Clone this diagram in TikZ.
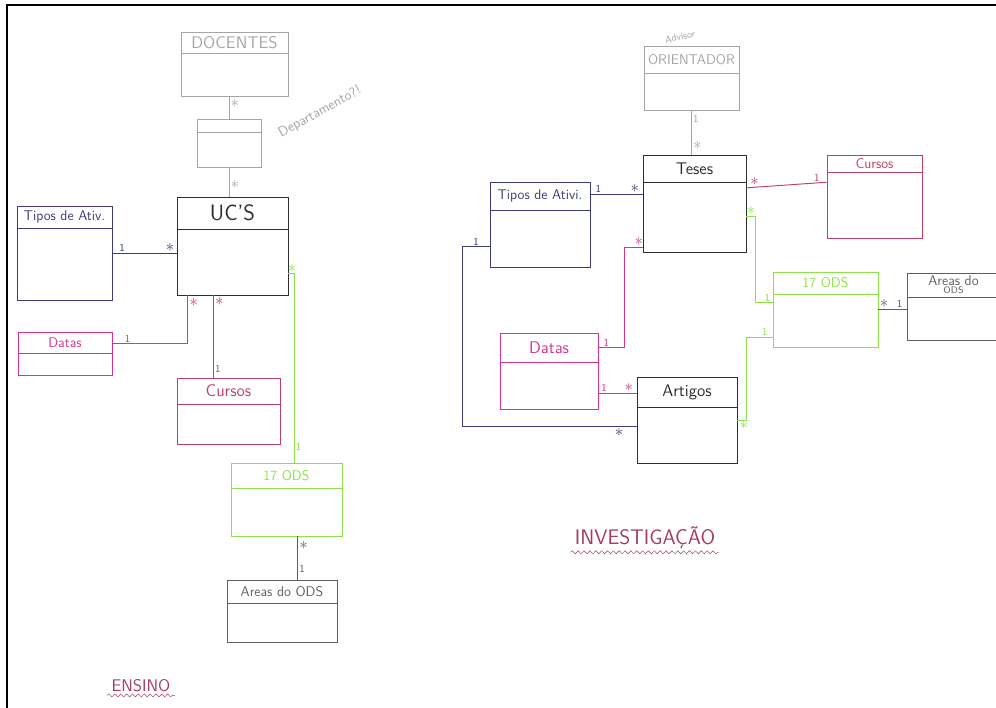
\documentclass[tikz,border=0pt]{standalone}
\usetikzlibrary{fit,calc,decorations.pathmorphing}

\definecolor{boxblack}{RGB}{45,45,45}
\definecolor{boxgray}{RGB}{165,165,165}
\definecolor{boxdark}{RGB}{95,95,95}
\definecolor{navy}{RGB}{60,60,120}
\definecolor{datapink}{RGB}{215,50,145}
\definecolor{rose}{RGB}{190,65,100}
\definecolor{odsgreen}{RGB}{140,225,70}
\definecolor{wine}{RGB}{165,60,100}

\newcommand{\manysym}{{\Large$\ast$}}
\newcommand{\umlclass}[8]{%
  \node[class node,draw=#2,fit={(#3,#4) (#5,#6)}] (#1) {};
  \draw[#2] (#3,#7) -- (#5,#7);
  \node[title node,text=#2] (#1-title) at ({(#3+#5)/2},{(#4+#7)/2}) {#8};
}

\begin{document}
\begin{tikzpicture}[x=0.03cm,y=-0.03cm,thick,
  class node/.style={rectangle,inner sep=0pt},
  title node/.style={font=\sffamily,align=center,inner sep=1pt},
  mult/.style={font=\sffamily\small,inner sep=1pt},
  heading/.style={font=\sffamily\Large,text=wine},
  wave/.style={wine,thin,decorate,decoration={snake,amplitude=1.3pt,segment length=5pt}}]

  \useasboundingbox (0,0) rectangle (996,708);
  \draw[line width=2.5pt] (7,708) -- (7,5) -- (996,5);

  \umlclass{docentes}{boxgray}{181}{32}{288}{96}{53}{\Large DOCENTES}
  \umlclass{depto}{boxgray}{197}{119}{261}{167}{132}{}
  \umlclass{ucs}{boxblack}{177}{197}{288}{295}{229}{\fontsize{19}{20}\selectfont UC'S}
  \umlclass{tiposL}{navy}{17}{206}{112}{300}{228}{\large Tipos de Ativ.}
  \umlclass{datasL}{datapink}{18}{332}{112}{375}{353}{\large Datas}
  \umlclass{cursosL}{rose}{177}{378}{280}{444}{404}{\Large Cursos}
  \umlclass{odsL}{odsgreen}{231}{463}{342}{536}{488}{\large 17 ODS}
  \umlclass{areasL}{boxdark}{227}{580}{337}{642}{603}{\large Areas do ODS}

  \umlclass{orient}{boxgray}{644}{46}{739}{110}{73}{\large ORIENTADOR}
  \umlclass{teses}{boxblack}{643}{155}{746}{252}{182}{\Large Teses}
  \umlclass{tiposR}{navy}{490}{182}{590}{267}{210}{\large Tipos de Ativi.}
  \umlclass{cursosR}{rose}{827}{155}{922}{238}{172}{\large Cursos}
  \umlclass{odsR}{odsgreen}{773}{272}{878}{347}{294}{\large 17 ODS}
  \umlclass{areasR}{boxdark}{907}{273}{1000}{340}{297}{\large Areas do\\[-5pt]\footnotesize ODS}
  \umlclass{datasR}{datapink}{500}{333}{598}{409}{362}{\Large Datas}
  \umlclass{artigos}{boxblack}{637}{377}{737}{463}{407}{\Large Artigos}

  \draw[boxgray] (depto.north |- docentes.south) -- (depto.north)
    node[mult,pos=.3,right]{\manysym};
  \draw[boxgray] (depto.south) -- (depto.south |- ucs.north)
    node[mult,pos=.6,right]{\manysym};
  \draw[navy] (tiposL.east) -- (tiposL.east -| ucs.west)
    node[mult,pos=.15,above]{1} node[mult,pos=.9,above]{\manysym};
  \draw[datapink] ($(datasL.north east)!.28!(datasL.south east)$) -| ($(ucs.south west)!.1!(ucs.south east)$)
    node[mult,pos=.1,above]{1} node[mult,pos=.93,right]{\manysym};
  \draw[rose] ($(ucs.south west)!.33!(ucs.south east)$) coordinate (c) -- (c |- cursosL.north)
    node[mult,pos=.08,right]{\manysym} node[mult,pos=.9,right]{1};
  \draw[odsgreen] ($(ucs.north east)!.78!(ucs.south east)$) -| ($(odsL.north west)!.57!(odsL.north east)$)
    node[mult,pos=.3,above]{\manysym} node[mult,pos=.96,right]{1};
  \draw[boxdark] ($(odsL.south west)!.6!(odsL.south east)$) coordinate (o) -- (o |- areasL.north)
    node[mult,pos=.2,right]{\manysym} node[mult,pos=.75,right]{1};

  \draw[boxgray] (orient.south) -- (orient.south |- teses.north)
    node[mult,pos=.2,right]{1} node[mult,pos=.8,right]{\manysym};
  \draw[navy] ($(tiposR.north east)!.15!(tiposR.south east)$) coordinate (t) -- (t -| teses.west)
    node[mult,pos=.15,above]{1} node[mult,pos=.85,above]{\manysym};
  \draw[navy] ($(tiposR.north west)!.76!(tiposR.south west)$) -- ++(-27,0) node[mult,pos=.5,above]{1}
    |- ($(artigos.north west)!.58!(artigos.south west)$) node[mult,pos=.95,below]{\manysym};
  \draw[rose] ($(teses.north east)!.34!(teses.south east)$) -- ($(cursosR.north west)!.33!(cursosR.south west)$)
    node[mult,pos=.1,above]{\manysym} node[mult,pos=.88,above]{1};
  \draw[odsgreen] ($(teses.north east)!.63!(teses.south east)$) -- ++(9,0) node[mult,pos=.5,above]{\manysym}
    |- ($(odsR.north west)!.41!(odsR.south west)$) node[mult,pos=.85,above]{1};
  \draw[odsgreen] (artigos.east) -- ++(9,0) node[mult,pos=.7,below]{\manysym}
    |- ($(odsR.north west)!.87!(odsR.south west)$) node[mult,pos=.85,above]{1};
  \draw[boxdark] (odsR.east) -- (odsR.east -| areasR.west)
    node[mult,pos=.2,above]{\manysym} node[mult,pos=.75,above]{1};
  \draw[datapink] ($(datasR.north east)!.2!(datasR.south east)$) -- ++(26,0) node[mult,pos=.3,above]{1}
    |- ($(teses.north west)!.95!(teses.south west)$) node[mult,pos=.9,above]{\manysym};
  \draw[datapink] ($(datasR.north east)!.79!(datasR.south east)$) coordinate (d) -- (d -| artigos.west)
    node[mult,pos=.15,above]{1} node[mult,pos=.8,above]{\manysym};

  \node[title node,text=boxgray,rotate=29] (deptonote) at (320,112) {\large Departamento?!};
  \node[title node,text=boxgray,rotate=12] (advisor) at (680,37) {\footnotesize Advisor};

  \node[heading] (ensino) at (141,686) {ENSINO};
  \draw[wave] ([yshift=1pt]ensino.south west) -- ([yshift=1pt]ensino.south east);
  \node[heading,font=\sffamily\fontsize{18}{20}\selectfont] (investigacao) at (645,538) {INVESTIGAÇÃO};
  \draw[wave] ([yshift=1pt]investigacao.south west) -- ([yshift=1pt]investigacao.south east);
\end{tikzpicture}
\end{document}
